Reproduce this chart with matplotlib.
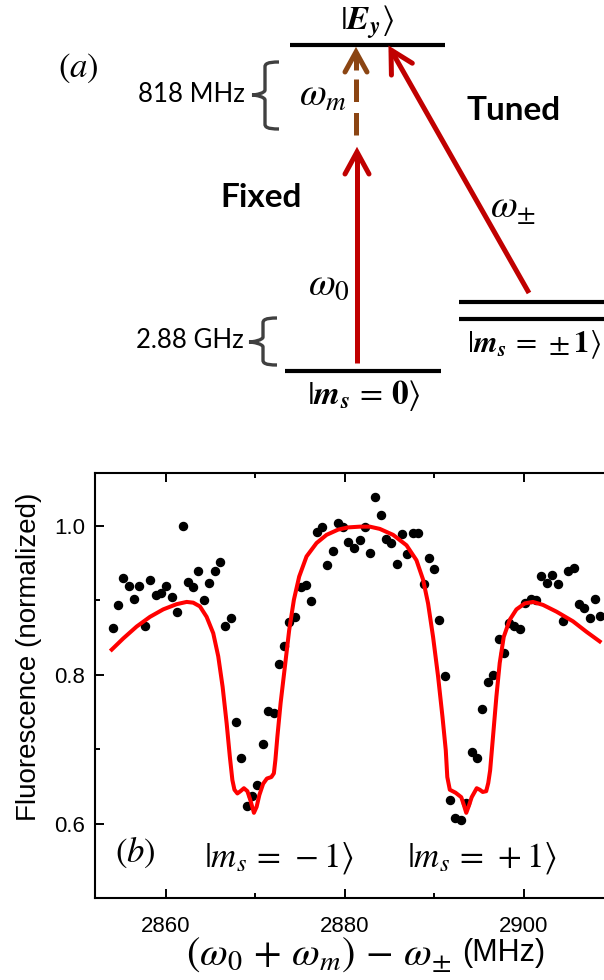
import numpy as np
import matplotlib
matplotlib.use("Agg")
import matplotlib.pyplot as plt
from matplotlib.path import Path
from matplotlib.patches import PathPatch

plt.rcParams['mathtext.fontset'] = 'stix'
plt.rcParams['font.family'] = ['Liberation Sans', 'DejaVu Sans']

# ---------------- data (panel b) ----------------
freq = [2854.05, 2854.64, 2855.23, 2855.84, 2856.43, 2857.02, 2857.69, 2858.22, 2858.85, 2859.44,
        2860.04, 2860.64, 2861.23, 2861.87, 2862.43, 2863.05, 2863.61, 2864.25, 2864.81, 2865.44,
        2866.04, 2866.63, 2867.23, 2867.82, 2868.42, 2869.02, 2869.65, 2870.20, 2870.81, 2871.43,
        2872.04, 2872.60, 2873.19, 2873.78, 2874.38, 2875.12, 2875.65, 2876.20, 2876.84, 2877.43,
        2878.03, 2878.63, 2879.22, 2879.81, 2880.37, 2881.04, 2881.65, 2882.24, 2882.83, 2883.43,
        2884.03, 2884.62, 2885.22, 2885.81, 2886.41, 2887.01, 2887.60, 2888.19, 2888.80, 2889.39,
        2889.98, 2890.58, 2891.18, 2891.77, 2892.37, 2892.96, 2893.56, 2894.19, 2894.79, 2895.39,
        2896.01, 2896.62, 2897.21, 2897.77, 2898.36, 2898.96, 2899.59, 2900.19, 2900.79, 2901.38,
        2901.98, 2902.57, 2903.21, 2903.80, 2904.39, 2905.00, 2905.59, 2906.18, 2906.79, 2907.38,
        2907.97, 2908.57]
fluor = [0.863, 0.894, 0.930, 0.919, 0.902, 0.920, 0.866, 0.928, 0.907, 0.910,
         0.919, 0.904, 0.884, 1.000, 0.925, 0.918, 0.939, 0.901, 0.924, 0.939,
         0.952, 0.866, 0.876, 0.737, 0.688, 0.624, 0.638, 0.652, 0.708, 0.752,
         0.749, 0.815, 0.839, 0.871, 0.878, 0.918, 0.921, 0.899, 0.992, 0.999,
         0.948, 0.966, 1.004, 0.998, 0.978, 0.970, 0.981, 0.999, 0.964, 1.039,
         1.015, 0.982, 0.977, 0.949, 0.989, 0.962, 0.991, 0.991, 0.922, 0.957,
         0.942, 0.874, 0.799, 0.632, 0.608, 0.605, 0.628, 0.697, 0.689, 0.754,
         0.791, 0.800, 0.848, 0.830, 0.870, 0.866, 0.862, 0.896, 0.902, 0.901,
         0.933, 0.924, 0.934, 0.922, 0.872, 0.939, 0.943, 0.895, 0.890, 0.877,
         0.902, 0.879]

fit_freq = [2853.94, 2855.23, 2856.73, 2858.22, 2859.70, 2861.20, 2862.32, 2863.05, 2863.80, 2864.55,
            2865.29, 2865.85, 2866.34, 2866.79, 2867.15, 2867.43, 2867.66, 2867.99, 2868.33, 2868.72,
            2869.11, 2869.44, 2869.84, 2870.14, 2870.45, 2870.87, 2871.29, 2871.79, 2872.07, 2872.24,
            2872.46, 2872.82, 2873.30, 2873.78, 2874.31, 2874.90, 2875.72, 2876.84, 2877.96, 2879.25,
            2880.37, 2881.68, 2882.80, 2883.91, 2885.40, 2886.90, 2888.01, 2888.75, 2889.31, 2889.87,
            2890.43, 2890.92, 2891.29, 2891.46, 2891.74, 2892.38, 2893.02, 2893.30, 2893.58, 2893.86,
            2894.19, 2894.75, 2895.09, 2895.42, 2895.81, 2896.04, 2896.25, 2896.57, 2896.95, 2897.32,
            2897.77, 2898.44, 2899.19, 2900.12, 2901.04, 2902.16, 2903.66, 2905.51, 2907.01, 2908.50]
fit_fluor = [0.834, 0.849, 0.865, 0.878, 0.888, 0.895, 0.898, 0.897, 0.892, 0.878,
             0.856, 0.825, 0.784, 0.735, 0.690, 0.659, 0.646, 0.641, 0.644, 0.648,
             0.644, 0.632, 0.615, 0.623, 0.639, 0.654, 0.661, 0.663, 0.668, 0.686,
             0.717, 0.762, 0.811, 0.860, 0.901, 0.932, 0.959, 0.977, 0.988, 0.995,
             0.998, 0.999, 0.999, 0.996, 0.988, 0.974, 0.954, 0.928, 0.896, 0.851,
             0.798, 0.744, 0.699, 0.663, 0.646, 0.642, 0.636, 0.626, 0.615, 0.624,
             0.636, 0.648, 0.646, 0.643, 0.644, 0.655, 0.672, 0.717, 0.771, 0.816,
             0.851, 0.874, 0.888, 0.896, 0.898, 0.894, 0.885, 0.872, 0.858, 0.845]

x_major = [2860, 2880, 2900]
x_minor = [2870, 2890]
y_major = [0.6, 0.8, 1.0]
y_minor = [0.7, 0.9]

# ---------------- schematic (panel a) ----------------
level_Ey = (290, 445, 45)          # x0, x1, y
level_m0 = (285, 441, 371)
levels_pm = [(459, 615, 302), (459, 615, 319)]
RED = '#C00000'
BROWN = '#8B4513'
GRAY = '#404040'

W, H = 604, 980
fig = plt.figure(figsize=(W / 100, H / 100), dpi=100)

ax0 = fig.add_axes([0, 0, 1, 1])
ax0.set_xlim(0, W)
ax0.set_ylim(H, 0)
ax0.axis('off')

for (x0, x1, y) in [level_Ey, level_m0] + levels_pm:
    ax0.plot([x0, x1], [y, y], color='black', lw=3.0, solid_capstyle='butt')


def arrow(x0, y0, x1, y1, color, lw, hl=24, hw=12, ls='-'):
    ax0.plot([x0, x1], [y0, y1], color=color, lw=lw, ls=ls, solid_capstyle='butt',
             dash_capstyle='butt')
    d = np.array([x1 - x0, y1 - y0], float)
    u = d / np.hypot(*d)
    n = np.array([-u[1], u[0]])
    tip = np.array([x1, y1])
    a = tip - u * hl + n * hw
    b = tip - u * hl - n * hw
    ax0.plot([a[0], tip[0], b[0]], [a[1], tip[1], b[1]], color=color, lw=lw,
             solid_capstyle='round', solid_joinstyle='miter')


arrow(357, 363, 357, 152, RED, 3.6, hl=22, hw=12)
arrow(529, 293, 391, 50, RED, 3.6, hl=22, hw=12)
ax0.plot([356, 356], [135, 72], color=BROWN, lw=3.6, ls=(0, (4.5, 2.2)),
         dash_capstyle='butt')
arrow(356, 70, 356, 52, BROWN, 3.6, hl=20, hw=11)


def brace(xr, xm, xt, ytop, ybot, ymid):
    r = 5
    verts = [(xr, ytop), (xm + 2, ytop), (xm, ytop + 2), (xm, ytop + r),
             (xm, ymid - r), (xm, ymid - 2), (xt + 4, ymid), (xt, ymid),
             (xt + 4, ymid), (xm, ymid + 2), (xm, ymid + r),
             (xm, ybot - r), (xm, ybot - 2), (xm + 2, ybot), (xr, ybot)]
    codes = [Path.MOVETO, Path.CURVE4, Path.CURVE4, Path.CURVE4,
             Path.LINETO, Path.CURVE4, Path.CURVE4, Path.CURVE4,
             Path.CURVE4, Path.CURVE4, Path.CURVE4,
             Path.LINETO, Path.CURVE4, Path.CURVE4, Path.CURVE4]
    ax0.add_patch(PathPatch(Path(verts, codes), fill=False, ec=GRAY, lw=2.4,
                            capstyle='butt'))


brace(279, 265, 252, 62, 129, 95)
brace(277, 263, 249, 318, 365, 342)

ax0.text(78, 68, r'$(a)$', fontsize=25, ha='center', va='center')
ax0.text(367, 22, r'$|\mathbfit{E}_{\mathbfit{y}}\rangle$', fontsize=24, ha='center', va='center')
ax0.text(323, 96, r'$\omega_m$', fontsize=28, ha='center', va='center')
ax0.text(329, 285, r'$\omega_0$', fontsize=28, ha='center', va='center')
ax0.text(513, 209, r'$\omega_{\pm}$', fontsize=28, ha='center', va='center')
ax0.text(245, 95, '818 MHz', fontsize=18.5, ha='right', va='center', family=['Lato', 'DejaVu Sans'])
ax0.text(244, 340, '2.88 GHz', fontsize=18.5, ha='right', va='center', family=['Lato', 'DejaVu Sans'])
ax0.text(261, 197, 'Fixed', fontsize=24, ha='center', va='center', fontweight='bold',
         family=['Lato', 'DejaVu Sans'])
ax0.text(514, 111, 'Tuned', fontsize=24, ha='center', va='center', fontweight='bold',
         family=['Lato', 'DejaVu Sans'])
ax0.text(364, 395, r'$|\mathbfit{m}_{\mathbfit{s}}\,=\,\mathbf{0}\rangle$', fontsize=24,
         ha='center', va='center')
ax0.text(601, 345, r'$|\mathbfit{m}_{\mathbfit{s}}\,=\,\pm\mathbf{1}\rangle$', fontsize=22,
         ha='right', va='center')

# ---------------- plot (panel b) ----------------
ax = fig.add_axes([95 / W, (H - 898) / H, 536 / W, (898 - 473) / H])
ax.plot(freq, fluor, 'o', color='black', ms=5.8, zorder=2)
ax.plot(fit_freq, fit_fluor, '-', color='#FF0000', lw=2.9, zorder=3)
ax.set_xlim(2852.07, 2912.0)
ax.set_ylim(0.5007, 1.071)
ax.set_xticks(x_major)
ax.set_xticks(x_minor, minor=True)
ax.set_yticks(y_major)
ax.set_yticks(y_minor, minor=True)
ax.set_yticklabels(['0.6', '0.8', '1.0'])
ax.tick_params(which='both', direction='in', top=True, right=True, width=1.4,
               labelsize=16)
ax.tick_params(which='major', length=6.5)
ax.tick_params(which='minor', length=3.5)
ax.tick_params(axis='x', which='major', pad=13)
ax.tick_params(axis='y', which='major', pad=7)
for s in ax.spines.values():
    s.set_linewidth(1.5)

ax.text(135, 853, r'$(b)$', fontsize=25, ha='center', va='center',
        transform=ax0.transData)
ax.text(279, 858, r'$|m_s\,=\,-1\rangle$', fontsize=25, ha='center', va='center',
        transform=ax0.transData)
ax.text(482, 858, r'$|m_s\,=\,+1\rangle$', fontsize=25, ha='center', va='center',
        transform=ax0.transData)

fig.text(29 / W, 1 - 657 / H, 'Fluorescence (normalized)', fontsize=20, rotation=90,
         ha='center', va='center')
fig.text(451 / W, 1 - 955 / H, r'$(\omega_0\, +\, \omega_m)\, -\, \omega_{\pm}$', fontsize=29,
         ha='right', va='center')
fig.text(462 / W, 1 - 953 / H, '(MHz)', fontsize=22, ha='left', va='center')

fig.savefig('out.png', dpi=100)
